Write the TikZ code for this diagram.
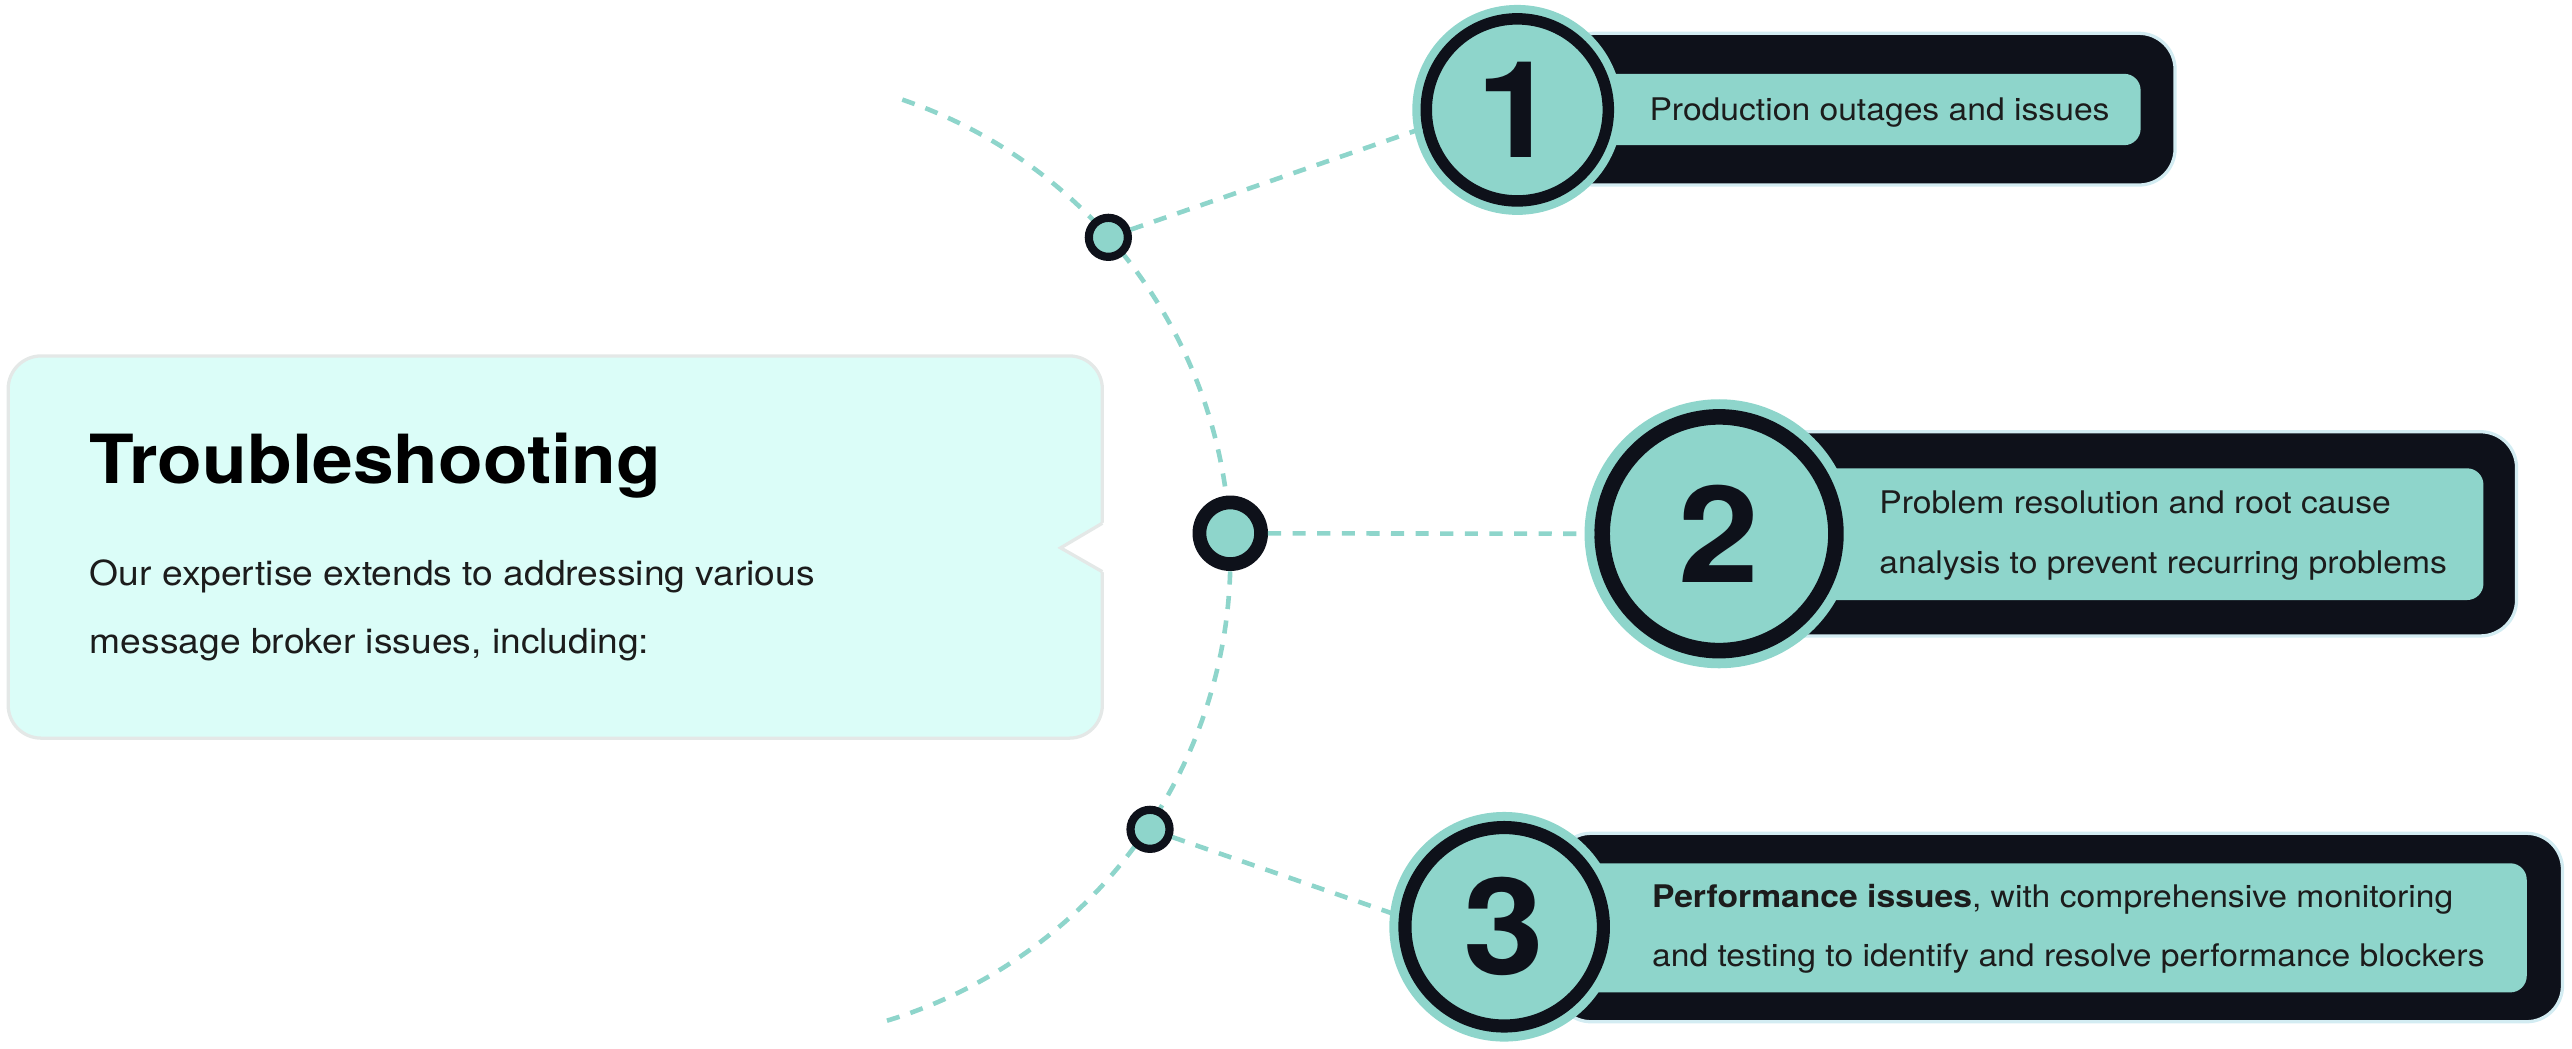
\documentclass[tikz,border=0pt]{standalone}
\usepackage{fontspec}
\setmainfont[FakeStretch=1.08]{TeX Gyre Heros}
\usetikzlibrary{calc}
\definecolor{mint}{HTML}{8ED5CB}
\definecolor{ink}{HTML}{0E111A}
\definecolor{paper}{HTML}{DBFDF8}
\definecolor{halo}{HTML}{D3ECF2}
\definecolor{rim}{HTML}{E4E8E7}
\definecolor{copy}{HTML}{1C1C1C}
\tikzstyle{joint}=[circle,draw=ink,fill=mint,inner sep=0pt]
\tikzstyle{link}=[draw=mint,line width=2.8pt,dash pattern=on 8pt off 7pt]
\tikzstyle{badge}=[circle,draw=ink,fill=mint,inner sep=0pt,text=ink,font=\bfseries\fontsize{82}{82}\selectfont]
\tikzstyle{card}=[fill=ink,draw=halo,line width=2pt,rounded corners=22pt]
\tikzstyle{strip}=[fill=mint,rounded corners=10pt]
\tikzstyle{itemtext}=[anchor=base west,inner sep=0pt,text=copy,font=\fontsize{19}{19}\selectfont]
\tikzstyle{body}=[anchor=base west,inner sep=0pt,text=copy,font=\fontsize{21}{21}\selectfont]

\begin{document}
\begin{tikzpicture}[x=1pt,y=-1pt]
      \useasboundingbox (0,0) rectangle (1568,639);
      \draw[draw=rim,line width=2pt,fill=paper,rounded corners=20pt] (5,217) rectangle (672,450);
      \fill[white] (674,318) -- (646.6,334) -- (674,349.5) -- cycle;
      \draw[rim,line width=2pt] (672,319) -- (646.6,334) -- (672,348.5);
      \node[anchor=base west,inner sep=0pt,text=black,font=\bfseries\fontsize{41.3}{41.3}\selectfont] (title) at (54.6,295) {Troubleshooting};
      \node[body] (intro1) at (54.6,357) {Our expertise extends to addressing various};
      \node[body] (intro2) at (54.6,398.3) {message broker issues, including:};

      \draw[link] (455,340) ++(-71.2:295) arc[start angle=-71.2,end angle=73.7,radius=295];

      \foreach \l/\t/\b/\r/\st/\sb/\sr in {950/20.3/112.8/1326/45/88.5/1305,1075/263.2/387.7/1534.2/285.5/365.8/1514,948/508/622.9/1562.2/526.3/605/1540.4}{
        \draw[card] (\l,\t) rectangle (\r,\b);
        \fill[strip] (\l,\st) rectangle (\sr,\sb);
      }
      \foreach \id/\x/\y/\s/\w/\o in {1/925/67/111/7/17,2/1048/325.4/142.5/9.5/21.5,3/917/565/121/8/19}{
        \node[badge,minimum size=\s,line width=\w,preaction={draw=mint,line width=\o}] (c\id) at (\x,\y) {\id};
      }
      \foreach \id/\x/\y/\s/\w in {1/675.7/144.7/23.8/5,2/750/325.1/37.6/8.4,3/701.1/505.6/23.8/5}{
        \node[joint,minimum size=\s,line width=\w] (n\id) at (\x,\y) {};
      }
      \foreach \id/\ang in {1/191,2/180,3/174}{
        \path[link] (n\id) -- (c\id.\ang);
      }

      \node[itemtext] (p1) at (1005.4,73.2) {Production outages and issues};
      \node[itemtext] (p2a) at (1145.5,312.9) {Problem resolution and root cause};
      \node[itemtext] (p2b) at (1145.5,349.5) {analysis to prevent recurring problems};
      \node[itemtext] (p3a) at (1007,553) {\textbf{Performance issues}, with comprehensive monitoring};
      \node[itemtext] (p3b) at (1007,589.3) {and testing to identify and resolve performance blockers};
    \end{tikzpicture}
\end{document}
